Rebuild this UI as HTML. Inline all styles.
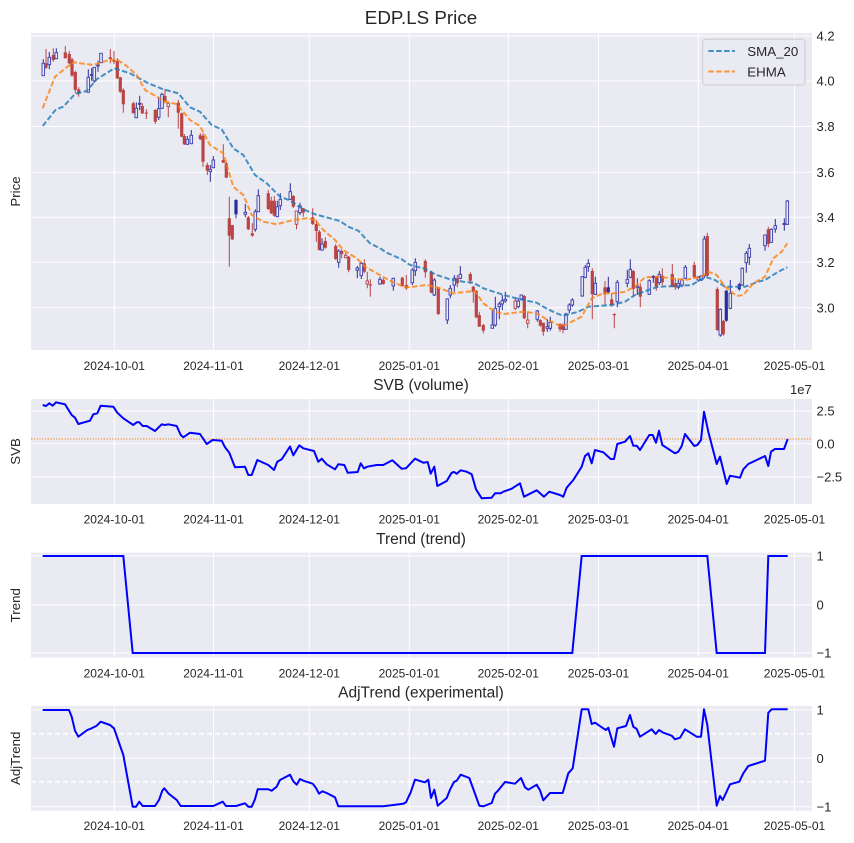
<!DOCTYPE html>
<html><head><meta charset="utf-8"><style>
html,body{margin:0;padding:0;background:#fff;}
svg{display:block;}
text{font-family:"Liberation Sans",Arial,sans-serif;fill:#262626;}
.g{stroke:#fff;stroke-width:1;fill:none;}
.R{fill:#b94545;}
.r{fill:#eaeaf2;stroke:#b94545;stroke-width:0.9;}
.B{fill:#2b2b9b;}
.b{fill:#eaeaf2;stroke:#3a3aad;stroke-width:0.9;}
.xt{font-size:12px;text-anchor:middle;}
.yt{font-size:13px;}
.tt{font-size:15.5px;text-anchor:middle;}
.yl{font-size:13.3px;text-anchor:middle;}
</style></head><body>
<svg width="854" height="843" viewBox="0 0 854 843" xmlns="http://www.w3.org/2000/svg">
<defs>
<clipPath id="c1"><rect x="31" y="33" width="781" height="317"/></clipPath>
<clipPath id="c2"><rect x="31" y="399" width="781" height="105"/></clipPath>
<clipPath id="c3"><rect x="31" y="552.7" width="781" height="105"/></clipPath>
<clipPath id="c4"><rect x="31" y="706" width="781" height="104.7"/></clipPath>
</defs>
<rect width="854" height="843" fill="#fff"/>

<!-- Panel 1 -->
<rect x="31" y="33" width="781" height="317" fill="#eaeaf2"/>
<path class="g" d="M114.3 33V350M213.5 33V350M309.3 33V350M409.3 33V350M508.3 33V350M598.5 33V350M698.3 33V350M794.5 33V350M31 36H812M31 81H812M31 126.5H812M31 172.3H812M31 217.3H812M31 262.3H812M31 307.7H812"/>
<g clip-path="url(#c1)">
<path stroke="#b94545" stroke-width="1" fill="none" d="M46 49V69M53.3 48.3V61.7M65.3 46V58.3M69.3 51V64.3M72 57.7V76.7M75.3 70.7V93.3M78.7 87.3V96.7M110.3 49V63.3M114 51V64.3M117.3 58.3V79M120.3 76.7V92.7M123.3 88.3V112.7M133.3 101.7V113.3M142.3 103.3V114M146.3 109.3V119M155.3 109V124M165 89.3V103.3M168.3 101.7V117.3M178.3 100V128.7M181.7 112.7V137M184.3 134V145M200.3 133.3V140M203 133.3V166.7M207.3 162.7V175M223.3 144.3V163M226.3 162V178M229.3 196.7V266.7M232.3 225V240M248.3 216V230M252.3 223.3V236.7M268.3 190V210M271.3 196.7V214M274.3 196V216.7M293.3 195V207.7M296.5 211V229.3M303.3 208V216.7M312.7 208.3V225M316.3 220V241.7M319.3 230V250.5M325.3 237.3V248.7M335.7 244V260M341.7 249.3V258.3M345.7 252.7V258.3M348.7 256V272.3M364.3 259.3V273.3M367.3 271.7V288.3M370.3 279.3V296.7M383.3 278.3V284.7M402.3 276.7V286.7M406.3 275V290M425.3 259.3V277.7M431.3 270.7V293.3M438.3 286.7V315M457.3 275V287.3M470.3 272.3V284M473.3 285.7V302.7M476.3 290V318.3M479.3 311.7V326.7M483.3 324V333.3M515.3 297.7V310M524.3 295V319.3M527.7 311.7V328.3M540.3 319.3V326.7M543.3 322.7V335.7M560 323.3V331.7M563 323.3V333.3M592.3 268.3V319.3M605 281V305M611.7 293.3V306.7M614.3 313.3V328.3M633.3 270V296M640.3 283.3V307.3M656.3 276V290.7M662.3 268.3V285M672.3 264V287.3M675.3 278.3V290M694.3 261.7V278.3M707.3 232.7V276.7M717.3 287.3V331M723.3 320V335.7M768.3 226.7V247.3"/>
<path stroke="#2b2b9b" stroke-width="1" fill="none" d="M43.3 59.3V75.7M49.3 52V69.3M56.3 48.3V59.3M88.3 69.3V92.3M91.7 68V80.7M94.3 67.3V82.7M98 60.7V71.7M101 53.3V62.7M136.3 102.3V118.3M139.7 95.7V110M158.7 96.7V120M162 92.7V109M187.3 136V145M191.3 130V144.3M210.3 165V181.7M213.3 156V168.3M236 199.3V218.3M245.3 204V217.3M255.3 209.3V231.7M258.3 189.3V212.3M277.3 200.7V217.3M280.3 193.3V210M290.3 183.3V200M300 202.7V215M322 238.3V250.7M338.7 249.3V267.7M357.3 266V278.3M361.3 261.7V279M380 276.7V284.7M393.3 277.7V290.7M412.3 268.3V285M415.3 258.3V276M434.3 278.3V296M447.3 298.3V324M450.3 285V298.3M454.3 275V291.7M460.3 266V279.3M492.3 309.3V328.3M495.3 296.7V326.7M499.3 301.7V319.3M502.3 295V310M505.3 291.7V302.7M518.3 297.7V308.3M521.3 295V300M537.3 310V321.7M547.3 319.3V331.7M550.3 316.7V330.7M566 312.7V329.3M569.3 303.3V313.3M572.3 298.3V306.7M582.3 276V296.7M585.3 265V278.3M588.3 259.3V271.7M595.3 276.7V295M608.3 276.7V294M617.3 280V307.3M627.3 270V287.3M630.3 259.3V278.3M637.3 278.3V295M649.3 279.3V295M653.3 275V282.7M659.3 271V285M678.3 279.3V289.3M682 278.3V287.3M685.3 265V279.3M698.3 276V281.7M701.3 275.3V281M704.3 235.7V278.3M720.3 308.3V336.7M726.3 290V321.7M730.3 280V309.3M739.3 282.7V290.7M742.3 267.3V286M746.3 251V272.7M749.3 244V265M765 235V250.7M771.3 228.3V242.7M775.3 219V232.7M784.3 218.3V230.7M787.3 200V225"/>
<!-- red filled bodies -->
<g class="R">
<rect x="44.4" y="63.3" width="3.2" height="4.4"/><rect x="51.7" y="55" width="3.2" height="5"/><rect x="63.7" y="52.3" width="3.2" height="6"/><rect x="67.7" y="54" width="3.2" height="9.3"/><rect x="70.4" y="59.3" width="3.2" height="16.4"/><rect x="73.7" y="72" width="3.2" height="18"/><rect x="77.1" y="89.3" width="3.2" height="4"/><rect x="108.7" y="57.3" width="3.2" height="1.7"/><rect x="112.4" y="60" width="3.2" height="1.7"/><rect x="115.7" y="61" width="3.2" height="17.3"/><rect x="118.7" y="77.3" width="3.2" height="14.4"/><rect x="121.7" y="90" width="3.2" height="14.3"/><rect x="131.7" y="103.3" width="3.2" height="10"/><rect x="140.7" y="106" width="3.2" height="7.3"/><rect x="144.7" y="112.5" width="3.2" height="1.2"/><rect x="153.7" y="110" width="3.2" height="11.7"/><rect x="163.4" y="96" width="3.2" height="5"/><rect x="176.7" y="102.7" width="3.2" height="10"/><rect x="180.1" y="113.3" width="3.2" height="23.4"/><rect x="182.7" y="136" width="3.2" height="8.3"/><rect x="198.7" y="135.3" width="3.2" height="4"/><rect x="201.4" y="136" width="3.2" height="25.7"/><rect x="205.7" y="165" width="3.2" height="5.7"/><rect x="221.7" y="160" width="3.2" height="2.7"/><rect x="224.7" y="163.3" width="3.2" height="14.4"/><rect x="227.7" y="218.3" width="3.2" height="17.4"/><rect x="230.7" y="225" width="3.2" height="14.3"/><rect x="246.7" y="217.3" width="3.2" height="12"/><rect x="250.7" y="233.3" width="3.2" height="2.4"/><rect x="266.7" y="193.3" width="3.2" height="15.7"/><rect x="269.7" y="200.7" width="3.2" height="12.6"/><rect x="272.7" y="200.7" width="3.2" height="15"/><rect x="291.7" y="196" width="3.2" height="10.7"/><rect x="301.7" y="208.3" width="3.2" height="4.4"/><rect x="311.1" y="217.3" width="3.2" height="6.7"/><rect x="314.7" y="224" width="3.2" height="7"/><rect x="317.7" y="231.7" width="3.2" height="18.3"/><rect x="323.7" y="241" width="3.2" height="6.7"/><rect x="334.1" y="246" width="3.2" height="13"/><rect x="340.1" y="251" width="3.2" height="3"/><rect x="347.1" y="256.7" width="3.2" height="13.3"/><rect x="362.7" y="263.3" width="3.2" height="8.4"/><rect x="368.7" y="284.3" width="3.2" height="1.2"/><rect x="381.7" y="280" width="3.2" height="4"/><rect x="400.7" y="277.7" width="3.2" height="8.3"/><rect x="404.7" y="285" width="3.2" height="3.3"/><rect x="423.7" y="261" width="3.2" height="11.3"/><rect x="429.7" y="271.7" width="3.2" height="21"/><rect x="436.7" y="287.3" width="3.2" height="26.7"/><rect x="455.7" y="278.3" width="3.2" height="5"/><rect x="468.7" y="274" width="3.2" height="6.7"/><rect x="471.7" y="286.7" width="3.2" height="5"/><rect x="474.7" y="291" width="3.2" height="26.3"/><rect x="477.7" y="315" width="3.2" height="11.7"/><rect x="481.7" y="325" width="3.2" height="5.7"/><rect x="522.7" y="296" width="3.2" height="22.3"/><rect x="538.7" y="320" width="3.2" height="5.7"/><rect x="541.7" y="322.7" width="3.2" height="9"/><rect x="558.4" y="324" width="3.2" height="5.3"/><rect x="561.4" y="325" width="3.2" height="5"/><rect x="590.7" y="271" width="3.2" height="23.3"/><rect x="603.4" y="287.3" width="3.2" height="7"/><rect x="610.1" y="299.3" width="3.2" height="5.7"/><rect x="612.7" y="314" width="3.2" height="1.2"/><rect x="631.7" y="271" width="3.2" height="18"/><rect x="638.7" y="286.7" width="3.2" height="10"/><rect x="654.7" y="276.7" width="3.2" height="10"/><rect x="660.7" y="275.7" width="3.2" height="6.6"/><rect x="670.7" y="274" width="3.2" height="12.7"/><rect x="673.7" y="283.3" width="3.2" height="4"/><rect x="692.7" y="265" width="3.2" height="12.3"/><rect x="705.7" y="236" width="3.2" height="39.7"/><rect x="715.7" y="289" width="3.2" height="41"/><rect x="721.7" y="321" width="3.2" height="13.3"/><rect x="766.7" y="229.3" width="3.2" height="14.7"/>
</g>
<g class="r">
<rect x="167" y="103.3" width="2.6" height="3.4"/><rect x="295.2" y="211" width="2.6" height="13.3"/><rect x="344.4" y="255.3" width="2.6" height="2.4"/><rect x="366" y="281" width="2.6" height="3"/><rect x="514" y="301" width="2.6" height="7.3"/><rect x="526.4" y="320" width="2.6" height="3.3"/>
</g>
<g class="B">
<rect x="234.4" y="200" width="3.2" height="14.3"/><rect x="606.7" y="287.3" width="3.2" height="5"/><rect x="724.7" y="290.7" width="3.2" height="30"/><rect x="737.7" y="284.3" width="3.2" height="5"/>
</g>
<g class="b">
<rect x="42" y="63.3" width="2.6" height="12.4"/><rect x="48" y="57.3" width="2.6" height="7.4"/><rect x="55" y="52.7" width="2.6" height="6"/><rect x="87" y="77.3" width="2.6" height="15"/><rect x="90.4" y="74.5" width="2.6" height="1"/><rect x="93" y="67.3" width="2.6" height="13.7"/><rect x="96.7" y="65" width="2.6" height="1"/><rect x="99.7" y="53.3" width="2.6" height="9.4"/><rect x="135" y="108.3" width="2.6" height="9.4"/><rect x="138.4" y="103.3" width="2.6" height="1"/><rect x="157.4" y="108.7" width="2.6" height="8.6"/><rect x="160.7" y="94.3" width="2.6" height="14"/><rect x="186" y="139.3" width="2.6" height="5"/><rect x="190" y="135.3" width="2.6" height="8.4"/><rect x="209" y="169.3" width="2.6" height="2.4"/><rect x="212" y="160" width="2.6" height="7.7"/><rect x="244" y="212.3" width="2.6" height="2"/><rect x="254" y="211.7" width="2.6" height="17.6"/><rect x="257" y="195.7" width="2.6" height="16"/><rect x="276" y="206.7" width="2.6" height="10"/><rect x="279" y="199.3" width="2.6" height="6.4"/><rect x="289" y="191.7" width="2.6" height="7.6"/><rect x="298.7" y="206" width="2.6" height="6.7"/><rect x="320.7" y="244" width="2.6" height="6"/><rect x="337.4" y="251" width="2.6" height="11.3"/><rect x="356" y="268" width="2.6" height="2.3"/><rect x="360" y="263.3" width="2.6" height="12.4"/><rect x="378.7" y="279.3" width="2.6" height="4.7"/><rect x="392" y="278.3" width="2.6" height="7.7"/><rect x="411" y="270" width="2.6" height="12.7"/><rect x="414" y="262.3" width="2.6" height="8.4"/><rect x="433" y="280" width="2.6" height="15"/><rect x="446" y="299" width="2.6" height="21"/><rect x="449" y="288.3" width="2.6" height="6.7"/><rect x="453" y="278.3" width="2.6" height="6.7"/><rect x="459" y="274.3" width="2.6" height="4"/><rect x="491" y="325" width="2.6" height="3.3"/><rect x="494" y="308.3" width="2.6" height="16.7"/><rect x="498" y="304" width="2.6" height="2.7"/><rect x="501" y="300.7" width="2.6" height="3.3"/><rect x="504" y="299.3" width="2.6" height="1.7"/><rect x="517" y="301" width="2.6" height="5.7"/><rect x="520" y="295" width="2.6" height="4.3"/><rect x="536" y="311" width="2.6" height="8.3"/><rect x="546" y="326.7" width="2.6" height="1.6"/><rect x="549" y="322.3" width="2.6" height="6"/><rect x="564.7" y="314" width="2.6" height="15.3"/><rect x="568" y="305" width="2.6" height="5"/><rect x="571" y="300" width="2.6" height="5"/><rect x="581" y="276.7" width="2.6" height="19.3"/><rect x="584" y="267.3" width="2.6" height="10"/><rect x="587" y="263.3" width="2.6" height="3.4"/><rect x="594" y="283.3" width="2.6" height="11"/><rect x="616" y="282.3" width="2.6" height="19.4"/><rect x="626" y="279.3" width="2.6" height="4"/><rect x="629" y="269.3" width="2.6" height="8"/><rect x="636" y="286" width="2.6" height="1.3"/><rect x="648" y="280.7" width="2.6" height="13.6"/><rect x="652" y="276.5" width="2.6" height="1"/><rect x="658" y="274.3" width="2.6" height="8.4"/><rect x="677" y="283.3" width="2.6" height="4"/><rect x="680.7" y="280" width="2.6" height="5"/><rect x="684" y="267.3" width="2.6" height="11"/><rect x="697" y="276.7" width="2.6" height="3.3"/><rect x="700" y="276" width="2.6" height="4"/><rect x="703" y="239" width="2.6" height="36.7"/><rect x="719" y="309.3" width="2.6" height="25.7"/><rect x="729" y="293.3" width="2.6" height="15"/><rect x="741" y="268.3" width="2.6" height="16.7"/><rect x="745" y="253.3" width="2.6" height="9.4"/><rect x="748" y="248.3" width="2.6" height="9"/><rect x="763.7" y="235" width="2.6" height="10.7"/><rect x="770" y="229.3" width="2.6" height="13"/><rect x="774" y="225.7" width="2.6" height="3.3"/><rect x="783" y="223.5" width="2.6" height="1"/><rect x="786" y="201" width="2.6" height="23.3"/>
</g>
<polyline fill="none" stroke="#1f77b4" stroke-opacity="0.8" stroke-width="2" stroke-dasharray="5.5 2.4" points="42.7,126 56,109.3 63.3,106.7 75,94 86.7,91 96.7,79.3 114.3,68.3 130,73.3 148.3,83.3 163.3,89.3 178.3,93.3 190,107.3 200,111.7 211.7,125 221.7,129.3 233.3,148.3 243.3,155 255,175 266.7,183.3 280,196.7 290,200.5 303.3,209.3 315,214.3 340,221 348.3,226.7 358.3,230.7 370,243.3 380,248.3 386.7,252.7 401.7,259.3 410,265 423.3,268.3 436.7,275 450,279.3 463.3,281.7 473.3,282.7 483.3,288.3 496.7,292.7 510,296.7 523.3,300 536.7,302.7 543.3,306.7 555,312.7 563.3,315.7 578.3,311.7 588.3,306.7 611.7,305 625,301.7 635,295 648.3,290 658.3,286.7 678.3,286 691.7,285 700,280 706.7,277.3 715,280 725,286.7 745,286.7 758.3,281.7 765,280 778.3,271.7 787.3,267.3"/>
<polyline fill="none" stroke="#ff7f0e" stroke-opacity="0.8" stroke-width="2" stroke-dasharray="5.5 2.4" points="42.7,108.3 55,76.7 66.7,67.3 73.3,62.3 93.3,65 106.7,60.7 116.7,59.3 126.7,66 136.7,75 145,90 156.7,96.7 165,101.7 176.7,104 190,120 200,126 210,145 223.3,153.3 233.3,186.7 243.3,195 251.7,215 263.3,221.7 276.7,224.3 293.3,220 306.7,218.3 315,220 323.3,230 335,240 343.3,250 356.7,258.3 365,266.7 376.7,273.3 390,280.7 405,287.3 413.3,286.7 426.7,285 440,288.3 453.3,293.3 466.7,291.7 475,291 483.3,303.3 495,311.7 503.3,314 523.3,311.7 536.7,313.3 546.7,319.3 561.7,326.7 581.7,316.7 591.7,298.3 603.3,293.3 615,293.3 625,291.7 635,286.7 645,277.3 658.3,276.7 671.7,278.3 685,280 701.7,276.7 708.3,271.7 716.7,275 725,286.7 736.7,296 743.3,295 753.3,283.3 765,276.7 773.3,258.3 781.7,251.7 787.3,243.3"/>
</g>
<!-- legend -->
<rect x="702.7" y="39.3" width="102.3" height="45.7" rx="3" fill="#eaeaf2" fill-opacity="0.8" stroke="#cccccc" stroke-width="1"/>
<line x1="708.3" y1="51" x2="735" y2="51" stroke="#1f77b4" stroke-opacity="0.8" stroke-width="2" stroke-dasharray="5.5 2.4"/>
<line x1="708.3" y1="71.5" x2="735" y2="71.5" stroke="#ff7f0e" stroke-opacity="0.8" stroke-width="2" stroke-dasharray="5.5 2.4"/>
<text x="747.3" y="55.8" style="font-size:13.3px">SMA_20</text>
<text x="747.3" y="76.3" style="font-size:13.3px">EHMA</text>

<text x="421" y="24" style="font-size:18.8px" text-anchor="middle">EDP.LS Price</text>
<text class="yl" transform="translate(19.8,191.5) rotate(-90)">Price</text>
<g class="yt">
<text x="816.5" y="40.6">4.2</text><text x="816.5" y="85.6">4.0</text><text x="816.5" y="131.1">3.8</text><text x="816.5" y="176.9">3.6</text><text x="816.5" y="221.9">3.4</text><text x="816.5" y="266.9">3.2</text><text x="816.5" y="312.3">3.0</text>
</g>
<g class="xt">
<text x="114.3" y="370">2024-10-01</text><text x="213.5" y="370">2024-11-01</text><text x="309.3" y="370">2024-12-01</text><text x="409.3" y="370">2025-01-01</text><text x="508.3" y="370">2025-02-01</text><text x="598.5" y="370">2025-03-01</text><text x="698.3" y="370">2025-04-01</text><text x="794.5" y="370">2025-05-01</text>
</g>

<!-- Panel 2 -->
<text class="tt" x="421" y="390">SVB (volume)</text>
<rect x="31" y="399" width="781" height="105" fill="#eaeaf2"/>
<path class="g" d="M114.3 399V504M213.5 399V504M309.3 399V504M409.3 399V504M508.3 399V504M598.5 399V504M698.3 399V504M794.5 399V504M31 411H812M31 443.7H812M31 477H812"/>
<g clip-path="url(#c2)">
<line x1="31" y1="439" x2="812" y2="439" stroke="#ff7f0e" stroke-width="1" stroke-dasharray="1.2 1.6"/>
<polyline fill="none" stroke="#0000ff" stroke-width="2" stroke-linejoin="round" points="42.7,405 46,406 49.3,403.3 52.7,405.7 56,402.3 65,404.3 71.7,415 75,417.7 78.3,424 90,420.7 93.3,414.3 97.3,413.3 100.7,405.7 113.3,406.7 117.3,412.7 123.3,418.3 133.3,425 136.7,422.3 139.3,422.3 142.7,426 146.7,426 155,431 161.7,424.3 165,425 168.3,424.3 176.7,426 180.7,435 183.3,437.3 190,432.7 200,434 206.7,444 212.7,440 221.7,440.7 225,447.3 229.3,452.7 235,467.3 245,466.7 248.3,475 251.7,475 257.3,460 268.3,465 274,470 277.3,461.7 281.7,459.3 290,446.5 293.3,455.3 299.3,445.3 303.3,448.3 314,451 318.3,461.7 321.7,458.7 326.7,464.3 335,469.3 338.3,464.3 344.3,465 347.7,472.7 357.7,472 360.7,463.3 364,468.3 367.3,466.7 376.7,465 383.3,465 392.3,460.3 401.7,468.7 406,468.3 415,458.7 423.3,462.7 427.7,462 430.7,473.7 434.3,466.7 437.3,486 446.7,481 451.7,472.7 454,472 456.7,473.7 460.7,470.3 466.7,471.7 471.7,474.3 476,489.3 481.7,498.3 491.7,497.7 495,493.3 500.7,493.3 503.3,491.7 511.7,488.7 520,483.3 524,496.7 536.7,490.3 544,496.7 549.3,491.7 560,495 563.3,496.7 566.7,487.7 573.3,480 581.7,466.7 585,456 588.3,453.3 591.7,463.3 595,450 603.3,452.3 610.7,459 614,459 617.3,444 625,441.7 630,436 633.3,445.7 636.7,445.7 640,450 649.3,435 652.7,435 656,442.7 659,430.7 662.3,445 675,453.3 678.3,451.7 681.7,446 685,434 694.3,446 697.3,445 701,440 704,411.7 708.3,431.7 716.7,464 720,456.7 726.7,484 730,475.7 740,477.7 743.3,469.3 748.3,464 765,456 768.3,466 771,451.7 775,449 784,449 787.7,439"/>
</g>
<text class="yl" transform="translate(19.8,451.5) rotate(-90)">SVB</text>
<g class="yt">
<text x="816.5" y="415.6">2.5</text><text x="816.5" y="448.3">0.0</text><text x="816.5" y="481.6">−2.5</text>
<text x="811.7" y="394" text-anchor="end">1e7</text>
</g>
<g class="xt">
<text x="114.3" y="523.5">2024-10-01</text><text x="213.5" y="523.5">2024-11-01</text><text x="309.3" y="523.5">2024-12-01</text><text x="409.3" y="523.5">2025-01-01</text><text x="508.3" y="523.5">2025-02-01</text><text x="598.5" y="523.5">2025-03-01</text><text x="698.3" y="523.5">2025-04-01</text><text x="794.5" y="523.5">2025-05-01</text>
</g>

<!-- Panel 3 -->
<text class="tt" x="421" y="544">Trend (trend)</text>
<rect x="31" y="552.7" width="781" height="105" fill="#eaeaf2"/>
<path class="g" d="M114.3 552.7V657.7M213.5 552.7V657.7M309.3 552.7V657.7M409.3 552.7V657.7M508.3 552.7V657.7M598.5 552.7V657.7M698.3 552.7V657.7M794.5 552.7V657.7M31 556H812M31 605H812M31 653H812"/>
<g clip-path="url(#c3)">
<polyline fill="none" stroke="#0000ff" stroke-width="2" points="42.7,556 123.3,556 132.7,653 572.3,653 581.7,556 707.3,556 716.7,653 765,653 768.3,556 787.7,556"/>
</g>
<text class="yl" transform="translate(19.8,605.2) rotate(-90)">Trend</text>
<g class="yt">
<text x="816.5" y="560.6">1</text><text x="816.5" y="609.6">0</text><text x="816.5" y="657.6">−1</text>
</g>
<g class="xt">
<text x="114.3" y="677.5">2024-10-01</text><text x="213.5" y="677.5">2024-11-01</text><text x="309.3" y="677.5">2024-12-01</text><text x="409.3" y="677.5">2025-01-01</text><text x="508.3" y="677.5">2025-02-01</text><text x="598.5" y="677.5">2025-03-01</text><text x="698.3" y="677.5">2025-04-01</text><text x="794.5" y="677.5">2025-05-01</text>
</g>

<!-- Panel 4 -->
<text class="tt" x="421" y="697.5">AdjTrend (experimental)</text>
<rect x="31" y="706" width="781" height="104.7" fill="#eaeaf2"/>
<path class="g" d="M114.3 706V810.7M213.5 706V810.7M309.3 706V810.7M409.3 706V810.7M508.3 706V810.7M598.5 706V810.7M698.3 706V810.7M794.5 706V810.7M31 710H812M31 758.3H812M31 806.7H812"/>
<path d="M31 733.7H812M31 781.7H812" stroke="#fff" stroke-width="1.5" stroke-dasharray="5 3" fill="none"/>
<g clip-path="url(#c4)">
<polyline fill="none" stroke="#0000ff" stroke-width="2" stroke-linejoin="round" points="42.7,710 69,710 71.7,716.7 75,730.7 78.3,736.7 87.3,730 91.7,728.3 96.7,725.7 100.7,721.7 110,725 114,728.3 123.3,755 132.7,806.7 136,806.7 139.3,801.7 142.7,806 155,806 159,800 162.3,790.7 164.3,788.3 168.3,793.3 176.7,800 180.7,806 213.3,806 222.7,801.7 226,806 236,806 245,803.3 248.3,806.7 251.7,806.7 255,799.3 257.7,789.3 268.3,789.3 271.7,790.7 276.7,786.7 280,780 290,774.7 293.3,781.3 296.7,784.7 300,779 303.3,780.7 312.7,783.7 316,788 319,793.7 322.3,791.3 326.7,793 335,797.3 338.3,806.3 383.3,806.3 403.3,803.7 406,802.3 410.7,792.3 415,779.7 425,782.3 428.3,779.7 431,798 434.3,789.7 437.7,805.7 446.7,798 450,789.7 454,782 456.7,780.7 460.7,774.7 469.3,778 473.3,789 479.3,805.7 483.3,806.3 491.7,803 495,793.7 498.3,790.3 505,782 515,783.7 521,778 525,787.3 528.3,789.7 536.7,784.7 540,790.3 543.3,800.3 550,793 562.7,793 568.3,773.3 572.7,768.3 581.7,709.3 588.3,709.3 591.7,724 595,722.7 603.3,728.3 606,730 608.3,727.7 614,746.7 617.3,728.3 626,726 630,715 633.3,726.7 636.7,729 640,736.7 651.7,729.3 655.7,734 659,730 663.3,732.7 671.7,735.7 675,739.3 680,737.7 685,729.3 696.7,736.7 701,736.7 704,709.3 707.3,725 716.7,805.7 720,796 722.7,800 730,784.3 739.3,781.7 743.3,773.3 748.3,766 765,760.7 768.3,712.7 771.7,709.3 787.7,709.3"/>
</g>
<text class="yl" transform="translate(19.8,758.3) rotate(-90)">AdjTrend</text>
<g class="yt">
<text x="816.5" y="714.6">1</text><text x="816.5" y="762.9">0</text><text x="816.5" y="811.3">−1</text>
</g>
<g class="xt">
<text x="114.3" y="830">2024-10-01</text><text x="213.5" y="830">2024-11-01</text><text x="309.3" y="830">2024-12-01</text><text x="409.3" y="830">2025-01-01</text><text x="508.3" y="830">2025-02-01</text><text x="598.5" y="830">2025-03-01</text><text x="698.3" y="830">2025-04-01</text><text x="794.5" y="830">2025-05-01</text>
</g>
</svg>
</body></html>
